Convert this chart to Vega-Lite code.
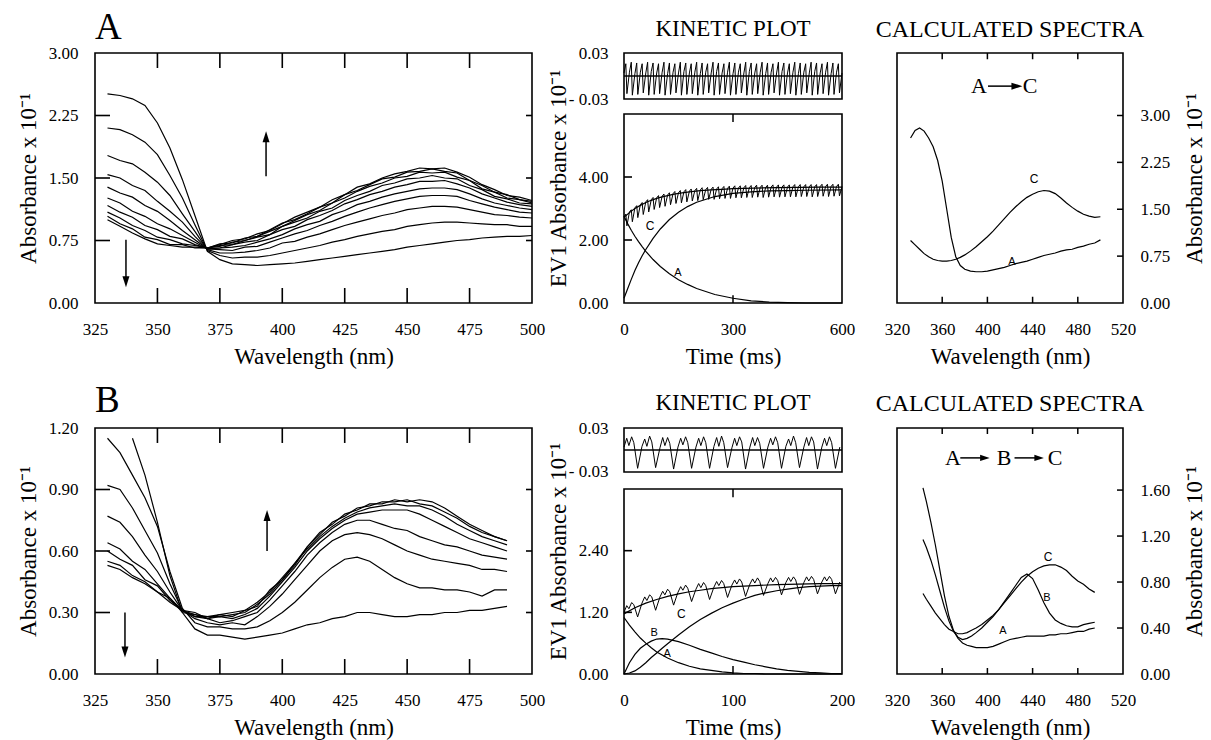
{
"$schema":"https://vega.github.io/schema/vega-lite/v6.json",
"background":"white",
"padding":{"left":16,"top":8,"right":0,"bottom":0},
"config":{
 "font":"Liberation Serif",
 "view":{"stroke":"black","strokeWidth":1.6},
 "axis":{"domain":false,"grid":false,"labelFont":"Liberation Serif","labelFontSize":17,"labelColor":"black","titleFont":"Liberation Serif","titleFontSize":23,"titleFontWeight":"normal","titleColor":"black","labelFlush":false,"labelOverlap":false,"titlePadding":8},
 "title":{"font":"Liberation Serif","fontWeight":"normal","color":"black"},
 "text":{"color":"black"}
},
"datasets":{
 "specA":[
  {"wl":330,"c0":2.51,"c1":2.10,"c2":1.77,"c3":1.54,"c4":1.39,"c5":1.26,"c6":1.17,"c7":1.09,"c8":1.04,"c9":1.00},
  {"wl":335,"c0":2.49,"c1":2.08,"c2":1.71,"c3":1.50,"c4":1.32,"c5":1.20,"c6":1.09,"c7":1.02,"c8":0.95,"c9":0.92},
  {"wl":340,"c0":2.45,"c1":2.02,"c2":1.67,"c3":1.41,"c4":1.27,"c5":1.10,"c6":1.03,"c7":0.93,"c8":0.89,"c9":0.84},
  {"wl":345,"c0":2.37,"c1":1.93,"c2":1.57,"c3":1.35,"c4":1.17,"c5":1.04,"c6":0.93,"c7":0.87,"c8":0.79,"c9":0.77},
  {"wl":350,"c0":2.16,"c1":1.78,"c2":1.45,"c3":1.22,"c4":1.10,"c5":0.95,"c6":0.88,"c7":0.79,"c8":0.76,"c9":0.71},
  {"wl":355,"c0":1.86,"c1":1.53,"c2":1.29,"c3":1.10,"c4":0.99,"c5":0.89,"c6":0.80,"c7":0.76,"c8":0.70,"c9":0.69},
  {"wl":360,"c0":1.48,"c1":1.26,"c2":1.07,"c3":0.97,"c4":0.87,"c5":0.81,"c6":0.77,"c7":0.71,"c8":0.70,"c9":0.67},
  {"wl":365,"c0":1.05,"c1":0.94,"c2":0.86,"c3":0.80,"c4":0.76,"c5":0.73,"c6":0.70,"c7":0.69,"c8":0.66,"c9":0.67},
  {"wl":370,"c0":0.62,"c1":0.63,"c2":0.64,"c3":0.65,"c4":0.65,"c5":0.65,"c6":0.66,"c7":0.66,"c8":0.66,"c9":0.66},
  {"wl":375,"c0":0.52,"c1":0.57,"c2":0.60,"c3":0.64,"c4":0.66,"c5":0.66,"c6":0.69,"c7":0.68,"c8":0.71,"c9":0.70},
  {"wl":380,"c0":0.47,"c1":0.54,"c2":0.60,"c3":0.63,"c4":0.67,"c5":0.70,"c6":0.70,"c7":0.73,"c8":0.72,"c9":0.75},
  {"wl":385,"c0":0.46,"c1":0.55,"c2":0.61,"c3":0.67,"c4":0.69,"c5":0.73,"c6":0.75,"c7":0.75,"c8":0.78,"c9":0.77},
  {"wl":390,"c0":0.45,"c1":0.55,"c2":0.63,"c3":0.68,"c4":0.73,"c5":0.75,"c6":0.79,"c7":0.80,"c8":0.80,"c9":0.83},
  {"wl":395,"c0":0.46,"c1":0.57,"c2":0.66,"c3":0.73,"c4":0.77,"c5":0.82,"c6":0.82,"c7":0.86,"c8":0.88,"c9":0.87},
  {"wl":400,"c0":0.47,"c1":0.60,"c2":0.72,"c3":0.78,"c4":0.82,"c5":0.88,"c6":0.92,"c7":0.92,"c8":0.96,"c9":0.95},
  {"wl":405,"c0":0.48,"c1":0.63,"c2":0.74,"c3":0.83,"c4":0.89,"c5":0.92,"c6":0.97,"c7":0.99,"c8":1.00,"c9":1.03},
  {"wl":410,"c0":0.50,"c1":0.66,"c2":0.79,"c3":0.87,"c4":0.94,"c5":1.00,"c6":1.02,"c7":1.06,"c8":1.07,"c9":1.09},
  {"wl":415,"c0":0.52,"c1":0.69,"c2":0.83,"c3":0.93,"c4":0.98,"c5":1.05,"c6":1.10,"c7":1.11,"c8":1.15,"c9":1.15},
  {"wl":420,"c0":0.54,"c1":0.73,"c2":0.88,"c3":0.98,"c4":1.06,"c5":1.11,"c6":1.14,"c7":1.20,"c8":1.20,"c9":1.24},
  {"wl":425,"c0":0.56,"c1":0.76,"c2":0.93,"c3":1.04,"c4":1.11,"c5":1.19,"c6":1.23,"c7":1.26,"c8":1.30,"c9":1.30},
  {"wl":430,"c0":0.58,"c1":0.80,"c2":0.97,"c3":1.09,"c4":1.18,"c5":1.24,"c6":1.29,"c7":1.34,"c8":1.35,"c9":1.39},
  {"wl":435,"c0":0.60,"c1":0.83,"c2":1.01,"c3":1.14,"c4":1.22,"c5":1.30,"c6":1.34,"c7":1.40,"c8":1.42,"c9":1.43},
  {"wl":440,"c0":0.62,"c1":0.86,"c2":1.05,"c3":1.18,"c4":1.27,"c5":1.34,"c6":1.41,"c7":1.44,"c8":1.49,"c9":1.50},
  {"wl":445,"c0":0.64,"c1":0.88,"c2":1.08,"c3":1.22,"c4":1.31,"c5":1.39,"c6":1.44,"c7":1.50,"c8":1.51,"c9":1.55},
  {"wl":450,"c0":0.67,"c1":0.92,"c2":1.12,"c3":1.25,"c4":1.34,"c5":1.42,"c6":1.49,"c7":1.52,"c8":1.57,"c9":1.58},
  {"wl":455,"c0":0.69,"c1":0.94,"c2":1.14,"c3":1.28,"c4":1.37,"c5":1.46,"c6":1.50,"c7":1.57,"c8":1.58,"c9":1.62},
  {"wl":460,"c0":0.71,"c1":0.96,"c2":1.16,"c3":1.29,"c4":1.38,"c5":1.46,"c6":1.53,"c7":1.56,"c8":1.61,"c9":1.61},
  {"wl":465,"c0":0.73,"c1":0.97,"c2":1.16,"c3":1.29,"c4":1.38,"c5":1.47,"c6":1.50,"c7":1.57,"c8":1.58,"c9":1.62},
  {"wl":470,"c0":0.75,"c1":0.97,"c2":1.15,"c3":1.28,"c4":1.36,"c5":1.43,"c6":1.49,"c7":1.51,"c8":1.56,"c9":1.57},
  {"wl":475,"c0":0.76,"c1":0.96,"c2":1.12,"c3":1.23,"c4":1.31,"c5":1.38,"c6":1.41,"c7":1.47,"c8":1.47,"c9":1.51},
  {"wl":480,"c0":0.78,"c1":0.95,"c2":1.09,"c3":1.19,"c4":1.25,"c5":1.31,"c6":1.36,"c7":1.37,"c8":1.41,"c9":1.42},
  {"wl":485,"c0":0.79,"c1":0.94,"c2":1.06,"c3":1.15,"c4":1.20,"c5":1.26,"c6":1.28,"c7":1.33,"c8":1.33,"c9":1.36},
  {"wl":490,"c0":0.80,"c1":0.94,"c2":1.05,"c3":1.12,"c4":1.17,"c5":1.21,"c6":1.25,"c7":1.26,"c8":1.30,"c9":1.29},
  {"wl":495,"c0":0.80,"c1":0.92,"c2":1.03,"c3":1.09,"c4":1.14,"c5":1.18,"c6":1.20,"c7":1.24,"c8":1.24,"c9":1.27},
  {"wl":500,"c0":0.81,"c1":0.92,"c2":1.02,"c3":1.08,"c4":1.12,"c5":1.16,"c6":1.19,"c7":1.20,"c8":1.22,"c9":1.23}
 ],
 "specB":[
  {"wl":330,"k0":null,"k1":1.15,"k2":0.92,"k3":0.77,"k4":0.64,"k5":0.60,"k6":0.55,"k7":0.53},
  {"wl":335,"k0":null,"k1":1.08,"k2":0.90,"k3":0.74,"k4":0.61,"k5":0.56,"k6":0.53,"k7":0.51},
  {"wl":340,"k0":1.15,"k1":0.97,"k2":0.81,"k3":0.67,"k4":0.55,"k5":0.53,"k6":0.48,"k7":0.47},
  {"wl":345,"k0":0.97,"k1":0.86,"k2":0.70,"k3":0.58,"k4":0.51,"k5":0.46,"k6":0.45,"k7":0.44},
  {"wl":350,"k0":0.74,"k1":0.72,"k2":0.59,"k3":0.50,"k4":0.44,"k5":0.43,"k6":0.40,"k7":0.40},
  {"wl":355,"k0":0.48,"k1":0.50,"k2":0.44,"k3":0.40,"k4":0.37,"k5":0.36,"k6":0.37,"k7":0.35},
  {"wl":360,"k0":0.30,"k1":0.32,"k2":0.31,"k3":0.31,"k4":0.31,"k5":0.31,"k6":0.30,"k7":0.31},
  {"wl":365,"k0":0.22,"k1":0.25,"k2":0.27,"k3":0.28,"k4":0.29,"k5":0.28,"k6":0.29,"k7":0.30},
  {"wl":370,"k0":0.19,"k1":0.23,"k2":0.25,"k3":0.27,"k4":0.27,"k5":0.28,"k6":0.28,"k7":0.27},
  {"wl":375,"k0":0.19,"k1":0.23,"k2":0.24,"k3":0.25,"k4":0.28,"k5":0.28,"k6":0.29,"k7":0.29},
  {"wl":380,"k0":0.18,"k1":0.22,"k2":0.25,"k3":0.26,"k4":0.27,"k5":0.29,"k6":0.28,"k7":0.30},
  {"wl":385,"k0":0.17,"k1":0.22,"k2":0.24,"k3":0.28,"k4":0.29,"k5":0.30,"k6":0.31,"k7":0.31},
  {"wl":390,"k0":0.18,"k1":0.23,"k2":0.28,"k3":0.30,"k4":0.32,"k5":0.34,"k6":0.33,"k7":0.35},
  {"wl":395,"k0":0.19,"k1":0.26,"k2":0.33,"k3":0.36,"k4":0.38,"k5":0.39,"k6":0.41,"k7":0.40},
  {"wl":400,"k0":0.20,"k1":0.30,"k2":0.39,"k3":0.43,"k4":0.45,"k5":0.46,"k6":0.46,"k7":0.47},
  {"wl":405,"k0":0.22,"k1":0.35,"k2":0.46,"k3":0.50,"k4":0.52,"k5":0.54,"k6":0.53,"k7":0.54},
  {"wl":410,"k0":0.24,"k1":0.41,"k2":0.53,"k3":0.58,"k4":0.60,"k5":0.61,"k6":0.62,"k7":0.62},
  {"wl":415,"k0":0.25,"k1":0.47,"k2":0.60,"k3":0.64,"k4":0.66,"k5":0.67,"k6":0.68,"k7":0.69},
  {"wl":420,"k0":0.27,"k1":0.52,"k2":0.65,"k3":0.69,"k4":0.71,"k5":0.72,"k6":0.74,"k7":0.73},
  {"wl":425,"k0":0.28,"k1":0.56,"k2":0.68,"k3":0.73,"k4":0.75,"k5":0.76,"k6":0.77,"k7":0.78},
  {"wl":430,"k0":0.30,"k1":0.57,"k2":0.69,"k3":0.75,"k4":0.78,"k5":0.79,"k6":0.81,"k7":0.80},
  {"wl":435,"k0":0.30,"k1":0.55,"k2":0.68,"k3":0.75,"k4":0.79,"k5":0.81,"k6":0.82,"k7":0.83},
  {"wl":440,"k0":0.29,"k1":0.51,"k2":0.66,"k3":0.73,"k4":0.80,"k5":0.82,"k6":0.84,"k7":0.83},
  {"wl":445,"k0":0.28,"k1":0.47,"k2":0.63,"k3":0.71,"k4":0.80,"k5":0.83,"k6":0.84,"k7":0.85},
  {"wl":450,"k0":0.28,"k1":0.44,"k2":0.60,"k3":0.70,"k4":0.80,"k5":0.82,"k6":0.85,"k7":0.84},
  {"wl":455,"k0":0.29,"k1":0.42,"k2":0.58,"k3":0.67,"k4":0.78,"k5":0.82,"k6":0.83,"k7":0.85},
  {"wl":460,"k0":0.29,"k1":0.42,"k2":0.56,"k3":0.65,"k4":0.75,"k5":0.80,"k6":0.82,"k7":0.84},
  {"wl":465,"k0":0.30,"k1":0.41,"k2":0.55,"k3":0.63,"k4":0.72,"k5":0.77,"k6":0.79,"k7":0.81},
  {"wl":470,"k0":0.30,"k1":0.41,"k2":0.54,"k3":0.62,"k4":0.69,"k5":0.73,"k6":0.76,"k7":0.77},
  {"wl":475,"k0":0.31,"k1":0.40,"k2":0.53,"k3":0.60,"k4":0.66,"k5":0.70,"k6":0.72,"k7":0.73},
  {"wl":480,"k0":0.31,"k1":0.38,"k2":0.51,"k3":0.58,"k4":0.64,"k5":0.67,"k6":0.69,"k7":0.70},
  {"wl":485,"k0":0.32,"k1":0.41,"k2":0.51,"k3":0.57,"k4":0.62,"k5":0.65,"k6":0.67,"k7":0.67},
  {"wl":490,"k0":0.33,"k1":0.41,"k2":0.50,"k3":0.56,"k4":0.60,"k5":0.63,"k6":0.65,"k7":0.65}
 ],
 "kinA":[
  {"t":0,"A":2.75,"C":0.15},{"t":10,"A":2.52,"C":0.45},{"t":20,"A":2.31,"C":0.75},{"t":30,"A":2.12,"C":1.03},
  {"t":40,"A":1.95,"C":1.28},{"t":50,"A":1.79,"C":1.50},{"t":60,"A":1.64,"C":1.70},{"t":80,"A":1.38,"C":2.05},
  {"t":100,"A":1.16,"C":2.35},{"t":125,"A":0.93,"C":2.65},{"t":150,"A":0.74,"C":2.88},{"t":175,"A":0.59,"C":3.06},
  {"t":200,"A":0.46,"C":3.20},{"t":250,"A":0.27,"C":3.38},{"t":300,"A":0.15,"C":3.48},{"t":350,"A":0.07,"C":3.53},
  {"t":400,"A":0.03,"C":3.56},{"t":450,"A":0.01,"C":3.57},{"t":500,"A":0.0,"C":3.58},{"t":600,"A":0.0,"C":3.59}
 ],
 "fitA":[
  {"t":0,"f":2.72},{"t":15,"f":2.87},{"t":30,"f":3.00},{"t":45,"f":3.10},{"t":60,"f":3.19},{"t":75,"f":3.26},
  {"t":90,"f":3.32},{"t":105,"f":3.37},{"t":120,"f":3.41},{"t":135,"f":3.45},{"t":150,"f":3.48},{"t":180,"f":3.53},
  {"t":210,"f":3.57},{"t":240,"f":3.59},{"t":270,"f":3.61},{"t":300,"f":3.63},{"t":360,"f":3.65},{"t":420,"f":3.66},
  {"t":480,"f":3.67},{"t":540,"f":3.68},{"t":600,"f":3.68}
 ],
 "traceA":[
  {"t":0,"r":0.004,"d":2.74},{"t":5,"r":0.016,"d":2.82},{"t":8,"r":-0.023,"d":2.45},
  {"t":15,"r":0.005,"d":2.89},{"t":20,"r":0.018,"d":2.96},{"t":23,"r":-0.025,"d":2.58},
  {"t":30,"r":0.003,"d":3.02},{"t":35,"r":0.017,"d":3.09},{"t":38,"r":-0.024,"d":2.71},
  {"t":45,"r":0.005,"d":3.12},{"t":50,"r":0.016,"d":3.19},{"t":53,"r":-0.022,"d":2.81},
  {"t":60,"r":0.004,"d":3.21},{"t":65,"r":0.018,"d":3.28},{"t":68,"r":-0.025,"d":2.89},
  {"t":75,"r":0.006,"d":3.28},{"t":80,"r":0.017,"d":3.35},{"t":83,"r":-0.024,"d":2.97},
  {"t":90,"r":0.004,"d":3.34},{"t":95,"r":0.016,"d":3.41},{"t":98,"r":-0.023,"d":3.03},
  {"t":105,"r":0.005,"d":3.39},{"t":110,"r":0.018,"d":3.46},{"t":113,"r":-0.025,"d":3.07},
  {"t":120,"r":0.003,"d":3.43},{"t":125,"r":0.017,"d":3.50},{"t":128,"r":-0.024,"d":3.12},
  {"t":135,"r":0.005,"d":3.47},{"t":140,"r":0.016,"d":3.54},{"t":143,"r":-0.022,"d":3.16},
  {"t":150,"r":0.004,"d":3.50},{"t":155,"r":0.018,"d":3.57},{"t":158,"r":-0.025,"d":3.18},
  {"t":165,"r":0.006,"d":3.53},{"t":170,"r":0.017,"d":3.60},{"t":173,"r":-0.024,"d":3.21},
  {"t":180,"r":0.004,"d":3.55},{"t":185,"r":0.016,"d":3.62},{"t":188,"r":-0.023,"d":3.24},
  {"t":195,"r":0.005,"d":3.57},{"t":200,"r":0.018,"d":3.64},{"t":203,"r":-0.025,"d":3.25},
  {"t":210,"r":0.003,"d":3.59},{"t":215,"r":0.017,"d":3.66},{"t":218,"r":-0.024,"d":3.28},
  {"t":225,"r":0.005,"d":3.60},{"t":230,"r":0.016,"d":3.67},{"t":233,"r":-0.022,"d":3.29},
  {"t":240,"r":0.004,"d":3.61},{"t":245,"r":0.018,"d":3.68},{"t":248,"r":-0.025,"d":3.29},
  {"t":255,"r":0.006,"d":3.62},{"t":260,"r":0.017,"d":3.69},{"t":263,"r":-0.024,"d":3.31},
  {"t":270,"r":0.004,"d":3.63},{"t":275,"r":0.016,"d":3.70},{"t":278,"r":-0.023,"d":3.32},
  {"t":285,"r":0.005,"d":3.64},{"t":290,"r":0.018,"d":3.71},{"t":293,"r":-0.025,"d":3.32},
  {"t":300,"r":0.003,"d":3.65},{"t":305,"r":0.017,"d":3.72},{"t":308,"r":-0.024,"d":3.34},
  {"t":315,"r":0.005,"d":3.65},{"t":320,"r":0.016,"d":3.72},{"t":323,"r":-0.022,"d":3.34},
  {"t":330,"r":0.004,"d":3.66},{"t":335,"r":0.018,"d":3.73},{"t":338,"r":-0.025,"d":3.35},
  {"t":345,"r":0.006,"d":3.66},{"t":350,"r":0.017,"d":3.73},{"t":353,"r":-0.024,"d":3.35},
  {"t":360,"r":0.004,"d":3.67},{"t":365,"r":0.016,"d":3.74},{"t":368,"r":-0.023,"d":3.36},
  {"t":375,"r":0.005,"d":3.67},{"t":380,"r":0.018,"d":3.74},{"t":383,"r":-0.025,"d":3.35},
  {"t":390,"r":0.003,"d":3.67},{"t":395,"r":0.017,"d":3.74},{"t":398,"r":-0.024,"d":3.36},
  {"t":405,"r":0.005,"d":3.68},{"t":410,"r":0.016,"d":3.75},{"t":413,"r":-0.022,"d":3.37},
  {"t":420,"r":0.004,"d":3.68},{"t":425,"r":0.018,"d":3.75},{"t":428,"r":-0.025,"d":3.36},
  {"t":435,"r":0.006,"d":3.68},{"t":440,"r":0.017,"d":3.75},{"t":443,"r":-0.024,"d":3.37},
  {"t":450,"r":0.004,"d":3.68},{"t":455,"r":0.016,"d":3.75},{"t":458,"r":-0.023,"d":3.37},
  {"t":465,"r":0.005,"d":3.69},{"t":470,"r":0.018,"d":3.76},{"t":473,"r":-0.025,"d":3.37},
  {"t":480,"r":0.003,"d":3.69},{"t":485,"r":0.017,"d":3.76},{"t":488,"r":-0.024,"d":3.38},
  {"t":495,"r":0.005,"d":3.69},{"t":500,"r":0.016,"d":3.76},{"t":503,"r":-0.022,"d":3.38},
  {"t":510,"r":0.004,"d":3.69},{"t":515,"r":0.018,"d":3.76},{"t":518,"r":-0.025,"d":3.37},
  {"t":525,"r":0.006,"d":3.69},{"t":530,"r":0.017,"d":3.76},{"t":533,"r":-0.024,"d":3.38},
  {"t":540,"r":0.004,"d":3.70},{"t":545,"r":0.016,"d":3.77},{"t":548,"r":-0.023,"d":3.39},
  {"t":555,"r":0.005,"d":3.70},{"t":560,"r":0.018,"d":3.77},{"t":563,"r":-0.025,"d":3.38},
  {"t":570,"r":0.003,"d":3.70},{"t":575,"r":0.017,"d":3.77},{"t":578,"r":-0.024,"d":3.39},
  {"t":585,"r":0.005,"d":3.70},{"t":590,"r":0.016,"d":3.77},{"t":593,"r":-0.022,"d":3.40},
  {"t":600,"r":0.004,"d":3.70}
 ],
 "kinB":[
  {"t":0,"A":1.10,"B":0.00,"C":0.00},{"t":5,"A":0.95,"B":0.22,"C":0.02},{"t":10,"A":0.82,"B":0.38,"C":0.06},
  {"t":15,"A":0.70,"B":0.50,"C":0.13},{"t":20,"A":0.60,"B":0.58,"C":0.22},{"t":25,"A":0.51,"B":0.64,"C":0.32},
  {"t":30,"A":0.43,"B":0.68,"C":0.41},{"t":35,"A":0.37,"B":0.69,"C":0.50},{"t":40,"A":0.31,"B":0.68,"C":0.59},
  {"t":50,"A":0.22,"B":0.63,"C":0.76},{"t":60,"A":0.15,"B":0.56,"C":0.92},{"t":70,"A":0.10,"B":0.48,"C":1.06},
  {"t":80,"A":0.07,"B":0.41,"C":1.18},{"t":90,"A":0.04,"B":0.34,"C":1.29},{"t":100,"A":0.02,"B":0.28,"C":1.38},
  {"t":110,"A":0.01,"B":0.23,"C":1.46},{"t":120,"A":0.01,"B":0.18,"C":1.53},{"t":130,"A":0.0,"B":0.14,"C":1.58},
  {"t":140,"A":0.0,"B":0.10,"C":1.62},{"t":150,"A":0.0,"B":0.07,"C":1.65},{"t":160,"A":0.0,"B":0.05,"C":1.68},
  {"t":170,"A":0.0,"B":0.03,"C":1.70},{"t":180,"A":0.0,"B":0.02,"C":1.71},{"t":190,"A":0.0,"B":0.01,"C":1.72},
  {"t":200,"A":0.0,"B":0.01,"C":1.72}
 ],
 "fitB":[
  {"t":0,"f":1.17},{"t":10,"f":1.29},{"t":20,"f":1.38},{"t":30,"f":1.45},{"t":40,"f":1.51},{"t":50,"f":1.56},
  {"t":60,"f":1.60},{"t":70,"f":1.63},{"t":80,"f":1.66},{"t":90,"f":1.68},{"t":100,"f":1.70},{"t":120,"f":1.72},
  {"t":140,"f":1.74},{"t":160,"f":1.75},{"t":180,"f":1.76},{"t":200,"f":1.76}
 ],
 "traceB":[
  {"t":0,"r":0.004,"d":1.20},{"t":2.5,"r":0.016,"d":1.33},{"t":4.5,"r":0.006,"d":1.27},{"t":7,"r":0.018,"d":1.39},{"t":9,"r":0.010,"d":1.35},{"t":12.5,"r":-0.025,"d":1.11},
  {"t":16.5,"r":0.005,"d":1.38},{"t":19,"r":0.015,"d":1.50},{"t":21,"r":0.005,"d":1.43},{"t":23.5,"r":0.019,"d":1.54},{"t":25.5,"r":0.011,"d":1.50},{"t":29,"r":-0.024,"d":1.24},
  {"t":33,"r":0.003,"d":1.50},{"t":35.5,"r":0.017,"d":1.61},{"t":37.5,"r":0.006,"d":1.54},{"t":40,"r":0.017,"d":1.65},{"t":42,"r":0.009,"d":1.60},{"t":45.5,"r":-0.026,"d":1.34},
  {"t":49.5,"r":0.004,"d":1.59},{"t":52,"r":0.016,"d":1.70},{"t":54,"r":0.007,"d":1.63},{"t":56.5,"r":0.018,"d":1.73},{"t":58.5,"r":0.010,"d":1.67},{"t":62,"r":-0.025,"d":1.41},
  {"t":66,"r":0.004,"d":1.65},{"t":68.5,"r":0.016,"d":1.76},{"t":70.5,"r":0.006,"d":1.68},{"t":73,"r":0.018,"d":1.78},{"t":75,"r":0.010,"d":1.72},{"t":78.5,"r":-0.025,"d":1.45},
  {"t":82.5,"r":0.005,"d":1.69},{"t":85,"r":0.017,"d":1.80},{"t":87,"r":0.005,"d":1.72},{"t":89.5,"r":0.019,"d":1.82},{"t":91.5,"r":0.010,"d":1.76},{"t":95,"r":-0.024,"d":1.49},
  {"t":99,"r":0.003,"d":1.73},{"t":101.5,"r":0.016,"d":1.83},{"t":103.5,"r":0.006,"d":1.75},{"t":106,"r":0.018,"d":1.85},{"t":108,"r":0.011,"d":1.79},{"t":111.5,"r":-0.026,"d":1.51},
  {"t":115.5,"r":0.004,"d":1.75},{"t":118,"r":0.017,"d":1.85},{"t":120,"r":0.006,"d":1.77},{"t":122.5,"r":0.017,"d":1.87},{"t":124.5,"r":0.009,"d":1.80},{"t":128,"r":-0.025,"d":1.53},
  {"t":132,"r":0.004,"d":1.76},{"t":134.5,"r":0.016,"d":1.87},{"t":136.5,"r":0.007,"d":1.79},{"t":139,"r":0.018,"d":1.88},{"t":141,"r":0.010,"d":1.82},{"t":144.5,"r":-0.025,"d":1.54},
  {"t":148.5,"r":0.005,"d":1.78},{"t":151,"r":0.015,"d":1.88},{"t":153,"r":0.006,"d":1.80},{"t":155.5,"r":0.019,"d":1.89},{"t":157.5,"r":0.010,"d":1.83},{"t":161,"r":-0.024,"d":1.55},
  {"t":165,"r":0.004,"d":1.78},{"t":167.5,"r":0.017,"d":1.89},{"t":169.5,"r":0.006,"d":1.81},{"t":172,"r":0.018,"d":1.90},{"t":174,"r":0.011,"d":1.84},{"t":177.5,"r":-0.026,"d":1.56},
  {"t":181.5,"r":0.004,"d":1.79},{"t":184,"r":0.016,"d":1.89},{"t":186,"r":0.006,"d":1.81},{"t":188.5,"r":0.018,"d":1.90},{"t":190.5,"r":0.010,"d":1.84},{"t":194,"r":-0.025,"d":1.56},
  {"t":198,"r":0.004,"d":1.79}
 ],
 "calcA":[
  {"wl":332,"A":2.64,"C":1.00},{"wl":336,"A":2.76,"C":0.93},{"wl":340,"A":2.80,"C":0.86},{"wl":344,"A":2.75,"C":0.79},
  {"wl":348,"A":2.64,"C":0.74},{"wl":352,"A":2.50,"C":0.70},{"wl":356,"A":2.28,"C":0.68},{"wl":360,"A":1.95,"C":0.67},
  {"wl":364,"A":1.50,"C":0.67},{"wl":368,"A":1.05,"C":0.68},{"wl":372,"A":0.74,"C":0.70},{"wl":376,"A":0.60,"C":0.73},
  {"wl":380,"A":0.54,"C":0.77},{"wl":385,"A":0.51,"C":0.83},{"wl":390,"A":0.50,"C":0.90},{"wl":395,"A":0.50,"C":0.98},
  {"wl":400,"A":0.51,"C":1.06},{"wl":405,"A":0.53,"C":1.15},{"wl":410,"A":0.55,"C":1.25},{"wl":415,"A":0.57,"C":1.35},
  {"wl":420,"A":0.60,"C":1.45},{"wl":425,"A":0.63,"C":1.54},{"wl":430,"A":0.65,"C":1.62},{"wl":435,"A":0.67,"C":1.69},
  {"wl":440,"A":0.70,"C":1.74},{"wl":445,"A":0.73,"C":1.78},{"wl":450,"A":0.76,"C":1.80},{"wl":455,"A":0.78,"C":1.79},
  {"wl":460,"A":0.80,"C":1.75},{"wl":465,"A":0.83,"C":1.68},{"wl":470,"A":0.85,"C":1.60},{"wl":475,"A":0.86,"C":1.53},
  {"wl":480,"A":0.89,"C":1.47},{"wl":485,"A":0.91,"C":1.42},{"wl":490,"A":0.94,"C":1.39},{"wl":495,"A":0.96,"C":1.37},
  {"wl":500,"A":1.01,"C":1.38}
 ],
 "calcB":[
  {"wl":343,"A":1.62,"B":1.17,"C":0.70},{"wl":346,"A":1.50,"B":1.10,"C":0.65},{"wl":350,"A":1.32,"B":0.99,"C":0.59},
  {"wl":354,"A":1.12,"B":0.86,"C":0.53},{"wl":358,"A":0.90,"B":0.72,"C":0.48},{"wl":362,"A":0.68,"B":0.58,"C":0.43},
  {"wl":366,"A":0.50,"B":0.46,"C":0.39},{"wl":370,"A":0.38,"B":0.37,"C":0.37},{"wl":374,"A":0.31,"B":0.32,"C":0.35},
  {"wl":378,"A":0.27,"B":0.30,"C":0.35},{"wl":382,"A":0.25,"B":0.31,"C":0.36},{"wl":386,"A":0.24,"B":0.33,"C":0.38},
  {"wl":390,"A":0.23,"B":0.36,"C":0.40},{"wl":395,"A":0.23,"B":0.40,"C":0.43},{"wl":400,"A":0.23,"B":0.45,"C":0.47},
  {"wl":405,"A":0.24,"B":0.50,"C":0.51},{"wl":410,"A":0.26,"B":0.56,"C":0.56},{"wl":415,"A":0.28,"B":0.63,"C":0.62},
  {"wl":420,"A":0.30,"B":0.70,"C":0.68},{"wl":425,"A":0.31,"B":0.77,"C":0.74},{"wl":430,"A":0.32,"B":0.84,"C":0.80},
  {"wl":435,"A":0.33,"B":0.87,"C":0.85},{"wl":440,"A":0.33,"B":0.83,"C":0.89},{"wl":445,"A":0.33,"B":0.73,"C":0.92},
  {"wl":450,"A":0.33,"B":0.62,"C":0.94},{"wl":455,"A":0.34,"B":0.53,"C":0.95},{"wl":460,"A":0.34,"B":0.47,"C":0.95},
  {"wl":465,"A":0.35,"B":0.44,"C":0.93},{"wl":470,"A":0.35,"B":0.42,"C":0.90},{"wl":475,"A":0.36,"B":0.41,"C":0.85},
  {"wl":480,"A":0.37,"B":0.41,"C":0.81},{"wl":485,"A":0.37,"B":0.43,"C":0.78},{"wl":490,"A":0.39,"B":0.44,"C":0.74},
  {"wl":495,"A":0.40,"B":0.45,"C":0.71}
 ]
},
"spacing":12,
"vconcat":[
 {"hconcat":[
  {"width":437,"height":250,
   "title":{"text":"A","anchor":"start","frame":"group","fontSize":37,"offset":-3},
   "layer":[
    {"data":{"name":"specA"},"transform":[{"fold":["c0","c1","c2","c3","c4","c5","c6","c7","c8","c9"],"as":["scan","abs"]}],
     "mark":{"type":"line","color":"black","strokeWidth":1.2},
     "encoding":{
      "x":{"field":"wl","type":"quantitative","scale":{"domain":[325,500],"nice":false,"zero":false},"axis":{"orient":"bottom","values":[325,350,375,400,425,450,475,500],"ticks":false,"labelFont":"Liberation Serif","labelFontSize":17,"titleFont":"Liberation Serif","titleFontSize":23,"titleFontWeight":"normal","labelPadding":18,"title":"Wavelength (nm)"}},
      "y":{"field":"abs","type":"quantitative","scale":{"domain":[0,3],"nice":false},"axis":{"orient":"left","values":[0,0.75,1.5,2.25,3],"format":".2f","ticks":false,"labelFont":"Liberation Serif","labelFontSize":17,"titleFont":"Liberation Serif","titleFontSize":23,"titleFontWeight":"normal","labelPadding":17,"title":"Absorbance x 10⁻¹"}},
      "detail":{"field":"scan"}}},
    {"data":{"values":[{}]},"mark":{"type":"rule","color":"black","strokeWidth":1.5},
     "encoding":{
      "x":{"datum":393.5,"type":"quantitative","axis":{"orient":"top","ticks":false,"labels":false,"title":null}},
      "y":{"datum":1.52,"type":"quantitative","axis":{"orient":"right","ticks":false,"labels":false,"title":null}},
      "y2":{"datum":2.0}}},
    {"data":{"values":[{}]},"mark":{"type":"point","shape":"M0,0L0.35,1.1L-0.35,1.1Z","filled":true,"color":"black","opacity":1,"size":400},
     "encoding":{"x":{"datum":393.5,"type":"quantitative","axis":null},"y":{"datum":2.06,"type":"quantitative","axis":null}}},
    {"data":{"values":[{}]},"mark":{"type":"rule","color":"black","strokeWidth":1.5},
     "encoding":{"x":{"datum":337.4,"type":"quantitative","axis":null},"y":{"datum":0.76,"type":"quantitative","axis":null},"y2":{"datum":0.25}}},
    {"data":{"values":[{}]},"mark":{"type":"point","shape":"M0,0L0.35,-1.1L-0.35,-1.1Z","filled":true,"color":"black","opacity":1,"size":400},
     "encoding":{"x":{"datum":337.4,"type":"quantitative","axis":null},"y":{"datum":0.19,"type":"quantitative","axis":null}}},
    {"data":{"values":[{"v":350},{"v":375},{"v":400},{"v":425},{"v":450},{"v":475}]},"mark":{"type":"rule","color":"black","strokeWidth":1.6},
     "encoding":{"x":{"field":"v","type":"quantitative","axis":null},"y":{"datum":0,"type":"quantitative","axis":null},"y2":{"datum":0.18}}},
    {"data":{"values":[{"v":350},{"v":375},{"v":400},{"v":425},{"v":450},{"v":475}]},"mark":{"type":"rule","color":"black","strokeWidth":1.6},
     "encoding":{"x":{"field":"v","type":"quantitative","axis":null},"y":{"datum":3,"type":"quantitative","axis":null},"y2":{"datum":2.82}}},
    {"data":{"values":[{"v":0.75},{"v":1.5},{"v":2.25}]},"mark":{"type":"rule","color":"black","strokeWidth":1.6},
     "encoding":{"y":{"field":"v","type":"quantitative","axis":null},"x":{"datum":325,"type":"quantitative","axis":null},"x2":{"datum":331}}},
    {"data":{"values":[{"v":0.75},{"v":1.5},{"v":2.25}]},"mark":{"type":"rule","color":"black","strokeWidth":1.6},
     "encoding":{"y":{"field":"v","type":"quantitative","axis":null},"x":{"datum":500,"type":"quantitative","axis":null},"x2":{"datum":497.6}}}
   ]},
  {"width":92,"height":250,"view":{"stroke":null},"data":{"values":[{}]},"mark":{"type":"text"},"encoding":{"text":{"value":""}}},
  {"width":218,"height":250,"view":{"stroke":null},
   "title":{"text":"KINETIC PLOT","anchor":"middle","frame":"group","fontSize":23,"offset":3},
   "resolve":{"scale":{"y":"independent"}},
   "layer":[
    {"layer":[
      {"data":{"name":"kinA"},"transform":[{"fold":["A","C"],"as":["sp","v"]}],"mark":{"type":"line","color":"black","strokeWidth":1.2},
       "encoding":{
        "x":{"field":"t","type":"quantitative","scale":{"domain":[0,600],"nice":false,"zero":false},"axis":{"orient":"bottom","values":[0,300,600],"ticks":false,"labelFont":"Liberation Serif","labelFontSize":17,"titleFont":"Liberation Serif","titleFontSize":23,"titleFontWeight":"normal","labelPadding":18,"title":"Time (ms)"}},
        "y":{"field":"v","type":"quantitative","scale":{"domain":[0,7.937],"nice":false,"zero":false},"axis":{"orient":"left","values":[0,2,4],"format":".2f","ticks":false,"labelFont":"Liberation Serif","labelFontSize":17,"titleFont":"Liberation Serif","titleFontSize":23,"titleFontWeight":"normal","labelPadding":16,"title":"EV1 Absorbance x 10⁻¹"}},
        "detail":{"field":"sp"}}},
      {"data":{"values":[{}]},"mark":{"type":"rule","color":"black","strokeWidth":1.5},
       "encoding":{"x":{"datum":300,"type":"quantitative","axis":{"orient":"top","ticks":false,"labels":false,"title":null}},"y":{"datum":5.75,"type":"quantitative","axis":{"orient":"right","ticks":false,"labels":false,"title":null}},"y2":{"datum":6}}},
      {"data":{"values":[{}]},"mark":{"type":"rect","filled":false,"color":"black","strokeWidth":1.6},
       "encoding":{"x":{"datum":0,"type":"quantitative","axis":null},"x2":{"datum":600},"y":{"datum":0,"type":"quantitative","axis":null},"y2":{"datum":6}}},
      {"data":{"name":"fitA"},"mark":{"type":"line","color":"black","strokeWidth":1.2},
       "encoding":{"x":{"field":"t","type":"quantitative","axis":null},"y":{"field":"f","type":"quantitative","axis":null}}},
      {"data":{"name":"traceA"},"mark":{"type":"line","color":"black","strokeWidth":1},
       "encoding":{"x":{"field":"t","type":"quantitative","axis":null},"y":{"field":"d","type":"quantitative","axis":null}}},
      {"data":{"values":[{"v":2},{"v":4}]},"mark":{"type":"rule","color":"black","strokeWidth":1.6},
       "encoding":{"y":{"field":"v","type":"quantitative","axis":null},"x":{"datum":0,"type":"quantitative","axis":null},"x2":{"datum":22}}},
      {"data":{"values":[{}]},"mark":{"type":"rule","color":"black","strokeWidth":1.5},
       "encoding":{"x":{"datum":300,"type":"quantitative","axis":null},"y":{"datum":0,"type":"quantitative","axis":null},"y2":{"datum":0.25}}},
      {"data":{"values":[{}]},"mark":{"type":"text","font":"Liberation Sans","fontSize":12},
       "encoding":{"x":{"datum":71.6,"type":"quantitative","axis":null},"y":{"datum":2.46,"type":"quantitative","axis":null},"text":{"value":"C"}}},
      {"data":{"values":[{}]},"mark":{"type":"text","font":"Liberation Sans","fontSize":11},
       "encoding":{"x":{"datum":148.6,"type":"quantitative","axis":null},"y":{"datum":0.96,"type":"quantitative","axis":null},"text":{"value":"A"}}}
    ]},
    {"layer":[
      {"data":{"name":"traceA"},"mark":{"type":"line","color":"black","strokeWidth":1},
       "encoding":{
        "x":{"field":"t","type":"quantitative","scale":{"domain":[0,600],"nice":false,"zero":false},"axis":null},
        "y":{"field":"r","type":"quantitative","scale":{"domain":[-0.296,0.03],"nice":false,"zero":false},"axis":{"orient":"left","values":[-0.03,0.03],"labelExpr":"datum.value > 0 ? '0.03' : '- 0.03'","ticks":false,"labelFont":"Liberation Serif","labelFontSize":17,"labelPadding":16,"title":null}}}},
      {"data":{"values":[{}]},"mark":{"type":"rule","color":"black","strokeWidth":1.5},
       "encoding":{"y":{"datum":0,"type":"quantitative","axis":{"orient":"right","ticks":false,"labels":false,"title":null}}}},
      {"data":{"values":[{}]},"mark":{"type":"rect","filled":false,"color":"black","strokeWidth":1.6},
       "encoding":{"x":{"datum":0,"type":"quantitative","axis":null},"x2":{"datum":600},"y":{"datum":-0.03,"type":"quantitative","axis":null},"y2":{"datum":0.03}}}
    ]}
   ]},
  {"width":55,"height":250,"view":{"stroke":null},"data":{"values":[{}]},"mark":{"type":"text"},"encoding":{"text":{"value":""}}},
  {"width":226,"height":250,
   "title":{"text":"CALCULATED SPECTRA","anchor":"middle","frame":"group","fontSize":24,"offset":10},
   "layer":[
    {"data":{"name":"calcA"},"transform":[{"fold":["A","C"],"as":["sp","abs"]}],"mark":{"type":"line","color":"black","strokeWidth":1.2},
     "encoding":{
      "x":{"field":"wl","type":"quantitative","scale":{"domain":[320,520],"nice":false,"zero":false},"axis":{"orient":"bottom","values":[320,360,400,440,480,520],"ticks":false,"labelFont":"Liberation Serif","labelFontSize":17,"titleFont":"Liberation Serif","titleFontSize":23,"titleFontWeight":"normal","labelPadding":18,"title":"Wavelength (nm)"}},
      "y":{"field":"abs","type":"quantitative","scale":{"domain":[0,4],"nice":false},"axis":{"orient":"right","values":[0,0.75,1.5,2.25,3],"format":".2f","ticks":false,"labelFont":"Liberation Serif","labelFontSize":17,"titleFont":"Liberation Serif","titleFontSize":23,"titleFontWeight":"normal","labelPadding":17,"title":"Absorbance x 10⁻¹","titleAngle":270,"titleBaseline":"top","titlePadding":14}},
      "detail":{"field":"sp"}}},
    {"data":{"values":[{}]},"mark":{"type":"rule","color":"black","strokeWidth":1.5},
     "encoding":{
      "x":{"datum":400.5,"type":"quantitative","axis":{"orient":"top","ticks":false,"labels":false,"title":null}},
      "x2":{"datum":425},
      "y":{"datum":3.47,"type":"quantitative","axis":{"orient":"left","ticks":false,"labels":false,"title":null}}}},
    {"data":{"values":[{}]},"mark":{"type":"point","shape":"M0,0L-1.1,0.35L-1.1,-0.35Z","filled":true,"color":"black","opacity":1,"size":400},
     "encoding":{"x":{"datum":431,"type":"quantitative","axis":null},"y":{"datum":3.47,"type":"quantitative","axis":null}}},
    {"data":{"values":[{}]},"mark":{"type":"text","fontSize":22},
     "encoding":{"x":{"datum":392.6,"type":"quantitative","axis":null},"y":{"datum":3.47,"type":"quantitative","axis":null},"text":{"value":"A"}}},
    {"data":{"values":[{}]},"mark":{"type":"text","fontSize":22},
     "encoding":{"x":{"datum":437.7,"type":"quantitative","axis":null},"y":{"datum":3.47,"type":"quantitative","axis":null},"text":{"value":"C"}}},
    {"data":{"values":[{}]},"mark":{"type":"text","font":"Liberation Sans","fontSize":12},
     "encoding":{"x":{"datum":441.4,"type":"quantitative","axis":null},"y":{"datum":1.98,"type":"quantitative","axis":null},"text":{"value":"C"}}},
    {"data":{"values":[{}]},"mark":{"type":"text","font":"Liberation Sans","fontSize":11},
     "encoding":{"x":{"datum":421.8,"type":"quantitative","axis":null},"y":{"datum":0.66,"type":"quantitative","axis":null},"text":{"value":"A"}}},
    {"data":{"values":[{"v":360},{"v":400},{"v":440},{"v":480}]},"mark":{"type":"rule","color":"black","strokeWidth":1.5},
     "encoding":{"x":{"field":"v","type":"quantitative","axis":null},"y":{"datum":4,"type":"quantitative","axis":null},"y2":{"datum":3.9}}},
    {"data":{"values":[{"v":360},{"v":400},{"v":440},{"v":480}]},"mark":{"type":"rule","color":"black","strokeWidth":1.5},
     "encoding":{"x":{"field":"v","type":"quantitative","axis":null},"y":{"datum":0,"type":"quantitative","axis":null},"y2":{"datum":0.1}}},
    {"data":{"values":[{"v":0.75},{"v":1.5},{"v":2.25},{"v":3}]},"mark":{"type":"rule","color":"black","strokeWidth":1.5},
     "encoding":{"y":{"field":"v","type":"quantitative","axis":null},"x":{"datum":520,"type":"quantitative","axis":null},"x2":{"datum":514.7}}}
   ]}
 ],"spacing":0,"bounds":"flush"},
 {"hconcat":[
  {"width":437,"height":246,
   "title":{"text":"B","anchor":"start","frame":"group","fontSize":37,"offset":-1},
   "layer":[
    {"data":{"name":"specB"},"transform":[{"fold":["k0","k1","k2","k3","k4","k5","k6","k7"],"as":["scan","abs"]}],
     "mark":{"type":"line","color":"black","strokeWidth":1.2},
     "encoding":{
      "x":{"field":"wl","type":"quantitative","scale":{"domain":[325,500],"nice":false,"zero":false},"axis":{"orient":"bottom","values":[325,350,375,400,425,450,475,500],"ticks":false,"labelFont":"Liberation Serif","labelFontSize":17,"titleFont":"Liberation Serif","titleFontSize":23,"titleFontWeight":"normal","labelPadding":18,"title":"Wavelength (nm)"}},
      "y":{"field":"abs","type":"quantitative","scale":{"domain":[0,1.2],"nice":false},"axis":{"orient":"left","values":[0,0.3,0.6,0.9,1.2],"format":".2f","ticks":false,"labelFont":"Liberation Serif","labelFontSize":17,"titleFont":"Liberation Serif","titleFontSize":23,"titleFontWeight":"normal","labelPadding":17,"title":"Absorbance x 10⁻¹"}},
      "detail":{"field":"scan"}}},
    {"data":{"values":[{}]},"mark":{"type":"rule","color":"black","strokeWidth":1.5},
     "encoding":{
      "x":{"datum":393.9,"type":"quantitative","axis":{"orient":"top","ticks":false,"labels":false,"title":null}},
      "y":{"datum":0.60,"type":"quantitative","axis":{"orient":"right","ticks":false,"labels":false,"title":null}},
      "y2":{"datum":0.78}}},
    {"data":{"values":[{}]},"mark":{"type":"point","shape":"M0,0L0.35,1.1L-0.35,1.1Z","filled":true,"color":"black","opacity":1,"size":400},
     "encoding":{"x":{"datum":393.9,"type":"quantitative","axis":null},"y":{"datum":0.80,"type":"quantitative","axis":null}}},
    {"data":{"values":[{}]},"mark":{"type":"rule","color":"black","strokeWidth":1.5},
     "encoding":{"x":{"datum":337,"type":"quantitative","axis":null},"y":{"datum":0.30,"type":"quantitative","axis":null},"y2":{"datum":0.10}}},
    {"data":{"values":[{}]},"mark":{"type":"point","shape":"M0,0L0.35,-1.1L-0.35,-1.1Z","filled":true,"color":"black","opacity":1,"size":400},
     "encoding":{"x":{"datum":337,"type":"quantitative","axis":null},"y":{"datum":0.08,"type":"quantitative","axis":null}}},
    {"data":{"values":[{"v":350},{"v":375},{"v":400},{"v":425},{"v":450},{"v":475}]},"mark":{"type":"rule","color":"black","strokeWidth":1.6},
     "encoding":{"x":{"field":"v","type":"quantitative","axis":null},"y":{"datum":0,"type":"quantitative","axis":null},"y2":{"datum":0.073}}},
    {"data":{"values":[{"v":350},{"v":375},{"v":400},{"v":425},{"v":450},{"v":475}]},"mark":{"type":"rule","color":"black","strokeWidth":1.6},
     "encoding":{"x":{"field":"v","type":"quantitative","axis":null},"y":{"datum":1.2,"type":"quantitative","axis":null},"y2":{"datum":1.127}}},
    {"data":{"values":[{"v":0.3},{"v":0.6},{"v":0.9}]},"mark":{"type":"rule","color":"black","strokeWidth":1.6},
     "encoding":{"y":{"field":"v","type":"quantitative","axis":null},"x":{"datum":325,"type":"quantitative","axis":null},"x2":{"datum":331}}},
    {"data":{"values":[{"v":0.3},{"v":0.6},{"v":0.9}]},"mark":{"type":"rule","color":"black","strokeWidth":1.6},
     "encoding":{"y":{"field":"v","type":"quantitative","axis":null},"x":{"datum":500,"type":"quantitative","axis":null},"x2":{"datum":497.6}}}
   ]},
  {"width":92,"height":246,"view":{"stroke":null},"data":{"values":[{}]},"mark":{"type":"text"},"encoding":{"text":{"value":""}}},
  {"width":218,"height":246,"view":{"stroke":null},
   "title":{"text":"KINETIC PLOT","anchor":"middle","frame":"group","fontSize":23,"offset":4},
   "resolve":{"scale":{"y":"independent"}},
   "layer":[
    {"layer":[
      {"data":{"name":"kinB"},"transform":[{"fold":["A","B","C"],"as":["sp","v"]}],"mark":{"type":"line","color":"black","strokeWidth":1.2},
       "encoding":{
        "x":{"field":"t","type":"quantitative","scale":{"domain":[0,200],"nice":false,"zero":false},"axis":{"orient":"bottom","values":[0,100,200],"ticks":false,"labelFont":"Liberation Serif","labelFontSize":17,"titleFont":"Liberation Serif","titleFontSize":23,"titleFontWeight":"normal","labelPadding":18,"title":"Time (ms)"}},
        "y":{"field":"v","type":"quantitative","scale":{"domain":[0,4.787],"nice":false,"zero":false},"axis":{"orient":"left","values":[0,1.2,2.4],"format":".2f","ticks":false,"labelFont":"Liberation Serif","labelFontSize":17,"titleFont":"Liberation Serif","titleFontSize":23,"titleFontWeight":"normal","labelPadding":16,"title":"EV1 Absorbance x 10⁻¹"}},
        "detail":{"field":"sp"}}},
      {"data":{"values":[{}]},"mark":{"type":"rule","color":"black","strokeWidth":1.5},
       "encoding":{"x":{"datum":100,"type":"quantitative","axis":{"orient":"top","ticks":false,"labels":false,"title":null}},"y":{"datum":3.44,"type":"quantitative","axis":{"orient":"right","ticks":false,"labels":false,"title":null}},"y2":{"datum":3.6}}},
      {"data":{"values":[{}]},"mark":{"type":"rect","filled":false,"color":"black","strokeWidth":1.6},
       "encoding":{"x":{"datum":0,"type":"quantitative","axis":null},"x2":{"datum":200},"y":{"datum":0,"type":"quantitative","axis":null},"y2":{"datum":3.6}}},
      {"data":{"name":"fitB"},"mark":{"type":"line","color":"black","strokeWidth":1.2},
       "encoding":{"x":{"field":"t","type":"quantitative","axis":null},"y":{"field":"f","type":"quantitative","axis":null}}},
      {"data":{"name":"traceB"},"mark":{"type":"line","color":"black","strokeWidth":1},
       "encoding":{"x":{"field":"t","type":"quantitative","axis":null},"y":{"field":"d","type":"quantitative","axis":null}}},
      {"data":{"values":[{"v":1.2},{"v":2.4}]},"mark":{"type":"rule","color":"black","strokeWidth":1.6},
       "encoding":{"y":{"field":"v","type":"quantitative","axis":null},"x":{"datum":0,"type":"quantitative","axis":null},"x2":{"datum":7.3}}},
      {"data":{"values":[{}]},"mark":{"type":"rule","color":"black","strokeWidth":1.5},
       "encoding":{"x":{"datum":100,"type":"quantitative","axis":null},"y":{"datum":0,"type":"quantitative","axis":null},"y2":{"datum":0.156}}},
      {"data":{"values":[{}]},"mark":{"type":"text","font":"Liberation Sans","fontSize":12},
       "encoding":{"x":{"datum":52.5,"type":"quantitative","axis":null},"y":{"datum":1.17,"type":"quantitative","axis":null},"text":{"value":"C"}}},
      {"data":{"values":[{}]},"mark":{"type":"text","font":"Liberation Sans","fontSize":11},
       "encoding":{"x":{"datum":27.6,"type":"quantitative","axis":null},"y":{"datum":0.80,"type":"quantitative","axis":null},"text":{"value":"B"}}},
      {"data":{"values":[{}]},"mark":{"type":"text","font":"Liberation Sans","fontSize":11},
       "encoding":{"x":{"datum":39.6,"type":"quantitative","axis":null},"y":{"datum":0.39,"type":"quantitative","axis":null},"text":{"value":"A"}}}
    ]},
    {"layer":[
      {"data":{"name":"traceB"},"mark":{"type":"line","color":"black","strokeWidth":1},
       "encoding":{
        "x":{"field":"t","type":"quantitative","scale":{"domain":[0,200],"nice":false,"zero":false},"axis":null},
        "y":{"field":"r","type":"quantitative","scale":{"domain":[-0.3055,0.03],"nice":false,"zero":false},"axis":{"orient":"left","values":[-0.03,0.03],"labelExpr":"datum.value > 0 ? '0.03' : '- 0.03'","ticks":false,"labelFont":"Liberation Serif","labelFontSize":17,"labelPadding":16,"title":null}}}},
      {"data":{"values":[{}]},"mark":{"type":"rule","color":"black","strokeWidth":1.5},
       "encoding":{"y":{"datum":0,"type":"quantitative","axis":{"orient":"right","ticks":false,"labels":false,"title":null}}}},
      {"data":{"values":[{}]},"mark":{"type":"rect","filled":false,"color":"black","strokeWidth":1.6},
       "encoding":{"x":{"datum":0,"type":"quantitative","axis":null},"x2":{"datum":200},"y":{"datum":-0.03,"type":"quantitative","axis":null},"y2":{"datum":0.03}}}
    ]}
   ]},
  {"width":55,"height":246,"view":{"stroke":null},"data":{"values":[{}]},"mark":{"type":"text"},"encoding":{"text":{"value":""}}},
  {"width":226,"height":246,
   "title":{"text":"CALCULATED SPECTRA","anchor":"middle","frame":"group","fontSize":24,"offset":11},
   "layer":[
    {"data":{"name":"calcB"},"transform":[{"fold":["A","B","C"],"as":["sp","abs"]}],"mark":{"type":"line","color":"black","strokeWidth":1.2},
     "encoding":{
      "x":{"field":"wl","type":"quantitative","scale":{"domain":[320,520],"nice":false,"zero":false},"axis":{"orient":"bottom","values":[320,360,400,440,480,520],"ticks":false,"labelFont":"Liberation Serif","labelFontSize":17,"titleFont":"Liberation Serif","titleFontSize":23,"titleFontWeight":"normal","labelPadding":18,"title":"Wavelength (nm)"}},
      "y":{"field":"abs","type":"quantitative","scale":{"domain":[0,2.14],"nice":false},"axis":{"orient":"right","values":[0,0.4,0.8,1.2,1.6],"format":".2f","ticks":false,"labelFont":"Liberation Serif","labelFontSize":17,"titleFont":"Liberation Serif","titleFontSize":23,"titleFontWeight":"normal","labelPadding":17,"title":"Absorbance x 10⁻¹","titleAngle":270,"titleBaseline":"top","titlePadding":14}},
      "detail":{"field":"sp"}}},
    {"data":{"values":[{}]},"mark":{"type":"rule","color":"black","strokeWidth":1.5},
     "encoding":{
      "x":{"datum":376,"type":"quantitative","axis":{"orient":"top","ticks":false,"labels":false,"title":null}},
      "x2":{"datum":397},
      "y":{"datum":1.88,"type":"quantitative","axis":{"orient":"left","ticks":false,"labels":false,"title":null}}}},
    {"data":{"values":[{}]},"mark":{"type":"point","shape":"M0,0L-1.1,0.35L-1.1,-0.35Z","filled":true,"color":"black","opacity":1,"size":300},
     "encoding":{"x":{"datum":402,"type":"quantitative","axis":null},"y":{"datum":1.88,"type":"quantitative","axis":null}}},
    {"data":{"values":[{}]},"mark":{"type":"rule","color":"black","strokeWidth":1.5},
     "encoding":{"x":{"datum":424,"type":"quantitative","axis":null},"x2":{"datum":445},"y":{"datum":1.88,"type":"quantitative","axis":null}}},
    {"data":{"values":[{}]},"mark":{"type":"point","shape":"M0,0L-1.1,0.35L-1.1,-0.35Z","filled":true,"color":"black","opacity":1,"size":300},
     "encoding":{"x":{"datum":450,"type":"quantitative","axis":null},"y":{"datum":1.88,"type":"quantitative","axis":null}}},
    {"data":{"values":[{}]},"mark":{"type":"text","fontSize":22},
     "encoding":{"x":{"datum":369.5,"type":"quantitative","axis":null},"y":{"datum":1.88,"type":"quantitative","axis":null},"text":{"value":"A"}}},
    {"data":{"values":[{}]},"mark":{"type":"text","fontSize":22},
     "encoding":{"x":{"datum":414.7,"type":"quantitative","axis":null},"y":{"datum":1.88,"type":"quantitative","axis":null},"text":{"value":"B"}}},
    {"data":{"values":[{}]},"mark":{"type":"text","fontSize":22},
     "encoding":{"x":{"datum":459.8,"type":"quantitative","axis":null},"y":{"datum":1.88,"type":"quantitative","axis":null},"text":{"value":"C"}}},
    {"data":{"values":[{}]},"mark":{"type":"text","font":"Liberation Sans","fontSize":12},
     "encoding":{"x":{"datum":453.6,"type":"quantitative","axis":null},"y":{"datum":1.02,"type":"quantitative","axis":null},"text":{"value":"C"}}},
    {"data":{"values":[{}]},"mark":{"type":"text","font":"Liberation Sans","fontSize":11},
     "encoding":{"x":{"datum":452.7,"type":"quantitative","axis":null},"y":{"datum":0.66,"type":"quantitative","axis":null},"text":{"value":"B"}}},
    {"data":{"values":[{}]},"mark":{"type":"text","font":"Liberation Sans","fontSize":11},
     "encoding":{"x":{"datum":413.8,"type":"quantitative","axis":null},"y":{"datum":0.37,"type":"quantitative","axis":null},"text":{"value":"A"}}},
    {"data":{"values":[{"v":360},{"v":400},{"v":440},{"v":480}]},"mark":{"type":"rule","color":"black","strokeWidth":1.5},
     "encoding":{"x":{"field":"v","type":"quantitative","axis":null},"y":{"datum":2.14,"type":"quantitative","axis":null},"y2":{"datum":2.088}}},
    {"data":{"values":[{"v":360},{"v":400},{"v":440},{"v":480}]},"mark":{"type":"rule","color":"black","strokeWidth":1.5},
     "encoding":{"x":{"field":"v","type":"quantitative","axis":null},"y":{"datum":0,"type":"quantitative","axis":null},"y2":{"datum":0.052}}},
    {"data":{"values":[{"v":0.4},{"v":0.8},{"v":1.2},{"v":1.6}]},"mark":{"type":"rule","color":"black","strokeWidth":1.5},
     "encoding":{"y":{"field":"v","type":"quantitative","axis":null},"x":{"datum":520,"type":"quantitative","axis":null},"x2":{"datum":514.7}}}
   ]}
 ],"spacing":0,"bounds":"flush"}
]
}
